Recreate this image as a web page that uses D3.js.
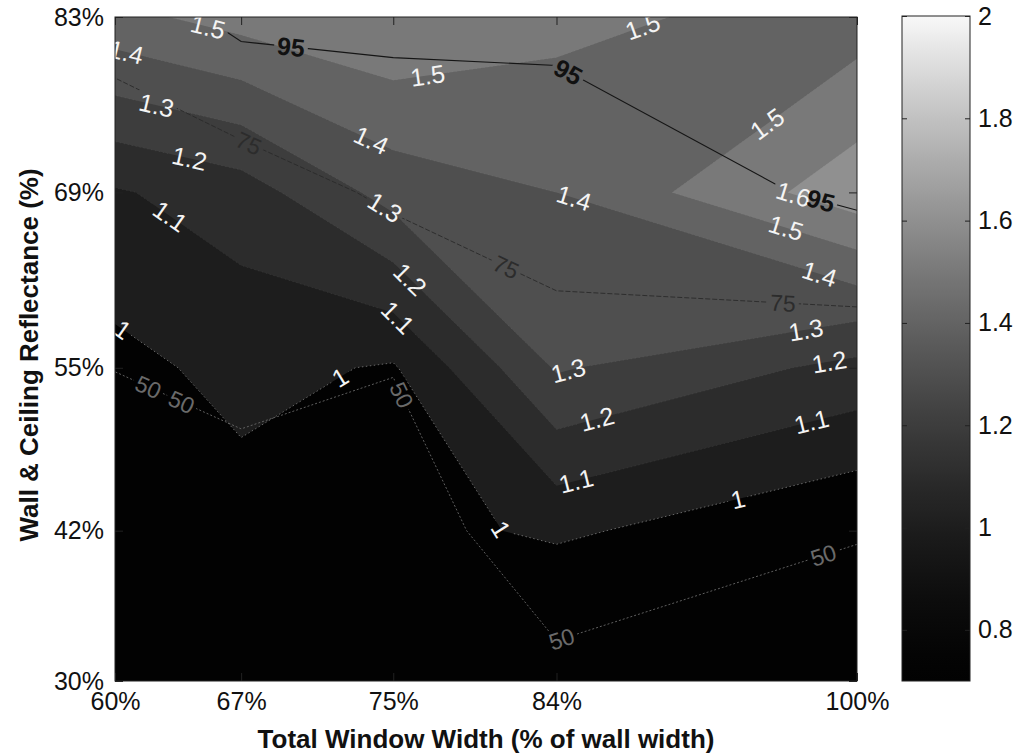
<!DOCTYPE html>
<html><head><meta charset="utf-8">
<script src="https://cdn.jsdelivr.net/npm/d3@7"></script>
<style>body{margin:0;background:#fff}</style>
</head><body>
<svg id="chart" width="1018" height="756"></svg>
<script>
// ---------- data ----------
const xTicks = [60, 66.8, 75, 83.8, 100];
const xTickLabels = ["60%", "67%", "75%", "84%", "100%"];
const yTicks = [30, 42, 55, 69, 83];
const yTickLabels = ["30%", "42%", "55%", "69%", "83%"];

// ratio field (filled contours); one row per wall & ceiling reflectance, columns follow xTicks
const ratioAt30 = [0.72, 0.70, 0.72, 0.80, 0.75];
const ratioAt42 = [0.75, 0.96, 0.96, 1.02, 0.90];
const ratioAt55 = [0.97, 1.03, 0.99, 1.31, 1.17];
const ratioAt69 = [1.09, 1.15, 1.34, 1.40, 1.66];
const ratioAt83 = [1.47, 1.54, 1.59, 1.53, 1.45];
const ratioLevels = [1.0, 1.1, 1.2, 1.3, 1.4, 1.5, 1.6];

// percentage field (black contour lines)
const pctAt30 = [25, 28, 35, 46.4, 40];
const pctAt42 = [30, 40, 42, 59.8, 51];
const pctAt55 = [50.5, 56, 50.5, 69.6, 62.4];
const pctAt69 = [60, 64.3, 78.4, 81.9, 98.7];
const pctAt83 = [83, 100, 100, 100, 99];
const pctLevels = [50, 75, 95];

// colour bar
const colorMin = 0.70, colorMax = 2.0;
const cbarTicks = [0.8, 1.0, 1.2, 1.4, 1.6, 1.8, 2.0];

// contour label anchors (data units)
const ratioLabelLevel = [1.4, 1.5, 1.3, 1.2, 1.1, 1.0, 1.5, 1.4, 1.3, 1.2, 1.1, 1.0, 1.5, 1.4, 1.5, 1.6, 1.5, 1.4, 1.3, 1.2, 1.1, 1.0, 1.3, 1.2, 1.1, 1.0];
const ratioLabelX = [60.7, 64.85, 62.2, 64.0, 63.4, 60.4, 77.0, 73.7, 74.3, 75.6, 75.1, 71.9, 88.6, 84.8, 94.8, 96.4, 96.1, 98.0, 97.2, 98.4, 97.2, 93.4, 84.5, 86.0, 84.8, 81.0];
const ratioLabelY = [80.8, 81.2, 75.7, 71.6, 68.0, 58.0, 76.8, 72.8, 67.2, 61.6, 58.8, 54.8, 81.6, 68.8, 75.2, 68.0, 65.8, 62.6, 58.4, 56.4, 52.7, 45.6, 54.4, 50.8, 46.3, 42.3];
const pctLabelLevel = [95, 95, 95, 75, 75, 75, 50, 50, 50, 50, 50];
const pctLabelX = [69.5, 84.5, 98.0, 67.3, 81.0, 96.0, 61.9, 64.0, 75.4, 84.0, 98.0];
const pctLabelY = [80.8, 78.8, 68.1, 73.2, 62.8, 59.8, 53.8, 53.6, 52.8, 33.7, 40.9];

// ---------- layout ----------
const W = 1018, H = 756;
const plot = {left: 115, right: 857, top: 17, bottom: 681};
const cbar = {left: 902, right: 970, top: 16, bottom: 681};
const font = "'Liberation Sans', Arial, Helvetica, sans-serif";

const svg = d3.select("#chart");
svg.append("rect").attr("width", W).attr("height", H).attr("fill", "#fff");
const defs = svg.append("defs");
defs.append("clipPath").attr("id", "plotClip").append("rect")
  .attr("x", plot.left).attr("y", plot.top)
  .attr("width", plot.right - plot.left).attr("height", plot.bottom - plot.top);

const x = d3.scaleLinear().domain([60, 100]).range([plot.left, plot.right]);
const y = d3.scaleLinear().domain([30, 83]).range([plot.bottom, plot.top]);
const color = d3.scaleSequential(t => {
  const g = Math.round(2 + 246 * Math.pow(Math.max(0, Math.min(1, t)), 1.5));
  return `rgb(${g},${g},${g})`;
}).domain([colorMin, colorMax]).clamp(true);

const nx = xTicks.length, ny = yTicks.length;
const ratioGrid = [ratioAt30, ratioAt42, ratioAt55, ratioAt69, ratioAt83].flat();
const pctGrid = [pctAt30, pctAt42, pctAt55, pctAt69, pctAt83].flat();

// grid coordinate (d3.contours space) -> index space -> data -> pixel
const toIdx = (c, n) => Math.max(0, Math.min(n - 1, c - 0.5));
function idxToData(u, vals) {
  const i = Math.min(vals.length - 2, Math.floor(u));
  const f = u - i;
  return vals[i] + f * (vals[i + 1] - vals[i]);
}
const idxToPx = p => [x(idxToData(p[0], xTicks)), y(idxToData(p[1], yTicks))];

const lineGen = d3.line();

function polyPath(c) {
  return c.coordinates.map(poly => poly.map(ring =>
    lineGen(ring.map(p => idxToPx([toIdx(p[0], nx), toIdx(p[1], ny)]))) + "Z").join("")).join("");
}

function isolines(c) {
  const out = [];
  const eps = 1e-7;
  const onB = (a, b) => (a[0] < eps && b[0] < eps) || (a[0] > nx - 1 - eps && b[0] > nx - 1 - eps) ||
    (a[1] < eps && b[1] < eps) || (a[1] > ny - 1 - eps && b[1] > ny - 1 - eps);
  c.coordinates.forEach(poly => poly.forEach(ring => {
    const pts = ring.map(p => [toIdx(p[0], nx), toIdx(p[1], ny)]);
    const segs = [];
    let cur = null, firstKept = false, lastKept = false, broken = false;
    for (let k = 0; k < pts.length - 1; k++) {
      const a = pts[k], b = pts[k + 1];
      if (onB(a, b)) { broken = true; if (cur) { segs.push(cur); cur = null; } }
      else {
        if (k === 0) firstKept = true;
        if (k === pts.length - 2) lastKept = true;
        if (!cur) cur = [a];
        cur.push(b);
      }
    }
    if (cur) segs.push(cur);
    if (broken && firstKept && lastKept && segs.length > 1) {
      const last = segs.pop();
      segs[0] = last.concat(segs[0].slice(1));
    }
    segs.forEach(s => out.push({value: c.value, pts: s.map(idxToPx)}));
  }));
  return out;
}

// ---------- filled contours ----------
const gPlot = svg.append("g").attr("clip-path", "url(#plotClip)");
gPlot.append("rect").attr("x", plot.left).attr("y", plot.top)
  .attr("width", plot.right - plot.left).attr("height", plot.bottom - plot.top)
  .attr("fill", color(colorMin));

const ratioContours = d3.contours().size([nx, ny]).thresholds(ratioLevels)(ratioGrid);
gPlot.selectAll("path.band").data(ratioContours).join("path")
  .attr("class", "band").attr("d", polyPath)
  .attr("fill", d => color(d.value)).attr("fill-rule", "evenodd");

// mask to open gaps in lines under labels
const mask = defs.append("mask").attr("id", "labelGap").attr("maskUnits", "userSpaceOnUse")
  .attr("x", 0).attr("y", 0).attr("width", W).attr("height", H);
mask.append("rect").attr("width", W).attr("height", H).attr("fill", "#fff");

const gLines = gPlot.append("g").attr("mask", "url(#labelGap)");
const ratioLines = ratioContours.flatMap(isolines);
gLines.selectAll("path.rline").data(ratioLines).join("path")
  .attr("class", "rline").attr("d", d => lineGen(d.pts))
  .attr("fill", "none").attr("stroke", "#c8c8c8").attr("stroke-width", 0.8)
  .attr("stroke-dasharray", "1.5,2.5")
  .attr("opacity", d => Math.abs(d.value - 1) < 1e-9 ? 0.6 : 0.1);

const pctContours = d3.contours().size([nx, ny]).thresholds(pctLevels)(pctGrid);
const pctLines = pctContours.flatMap(isolines);
const pctStroke = v => v >= 95 ? "#151515" : v >= 75 ? "#2a2a2a" : "#6a6a6a";
gLines.selectAll("path.pline").data(pctLines).join("path")
  .attr("class", "pline").attr("d", d => lineGen(d.pts))
  .attr("fill", "none").attr("stroke", d => pctStroke(d.value))
  .attr("stroke-width", d => d.value >= 95 ? 1.1 : 0.9)
  .attr("stroke-dasharray", d => d.value >= 95 ? null : d.value >= 75 ? "5,2" : "2,2");

// ---------- labels ----------
const gLabels = gPlot.append("g");
function placeLabels(lines, levels, lxs, lys, fmt, style) {
  levels.forEach((lev, k) => {
    const ax = x(lxs[k]), ay = y(lys[k]);
    let best = null;
    lines.filter(l => Math.abs(l.value - lev) < 1e-9).forEach(l => {
      const p = l.pts;
      for (let i = 0; i < p.length - 1; i++) {
        const a = p[i], b = p[i + 1];
        const dx = b[0] - a[0], dy = b[1] - a[1];
        const L2 = dx * dx + dy * dy;
        if (L2 < 1e-6) continue;
        let t = ((ax - a[0]) * dx + (ay - a[1]) * dy) / L2;
        t = Math.max(0, Math.min(1, t));
        const px = a[0] + t * dx, py = a[1] + t * dy;
        const d = (px - ax) ** 2 + (py - ay) ** 2;
        if (!best || d < best.d) best = {d, px, py, ang: Math.atan2(dy, dx) * 180 / Math.PI};
      }
    });
    if (!best) return;
    let ang = best.ang;
    if (ang > 90) ang -= 180;
    if (ang < -90) ang += 180;
    const size = style.size(lev);
    const tr = `translate(${best.px},${best.py}) rotate(${ang})`;
    const t = gLabels.append("text").attr("transform", tr)
      .attr("text-anchor", "middle").attr("dy", "0.36em")
      .attr("font-family", font).attr("font-size", size)
      .attr("font-weight", style.weight(lev)).attr("fill", style.fill(lev))
      .text(fmt(lev));
    const w = t.node().getComputedTextLength();
    mask.append("rect").attr("transform", tr)
      .attr("x", -w / 2 - 3).attr("y", -size * 0.45)
      .attr("width", w + 6).attr("height", size * 0.9).attr("fill", "#000");
  });
}
placeLabels(ratioLines, ratioLabelLevel, ratioLabelX, ratioLabelY, v => String(+v.toFixed(1)),
  {size: () => 25, weight: () => "normal", fill: () => "#f4f4f4"});
placeLabels(pctLines, pctLabelLevel, pctLabelX, pctLabelY, v => String(v),
  {size: v => v >= 95 ? 25 : 23, weight: v => v >= 95 ? "bold" : "normal", fill: v => v >= 95 ? "#111" : v >= 75 ? "#2c2c2c" : "#6a6a6a"});

// ---------- axes ----------
const tickLen = 8;
const gAx = svg.append("g");
gAx.append("g").attr("transform", `translate(0,${plot.bottom})`)
  .call(d3.axisBottom(x).tickValues(xTicks).tickFormat((d, i) => xTickLabels[i]).tickSizeInner(-tickLen).tickSizeOuter(0).tickPadding(11));
gAx.append("g").attr("transform", `translate(0,${plot.top})`)
  .call(d3.axisTop(x).tickValues(xTicks).tickFormat("").tickSizeInner(-tickLen).tickSizeOuter(0));
gAx.append("g").attr("transform", `translate(${plot.left},0)`)
  .call(d3.axisLeft(y).tickValues(yTicks).tickFormat((d, i) => yTickLabels[i]).tickSizeInner(-tickLen).tickSizeOuter(0).tickPadding(11));
gAx.append("g").attr("transform", `translate(${plot.right},0)`)
  .call(d3.axisRight(y).tickValues(yTicks).tickFormat("").tickSizeInner(-tickLen).tickSizeOuter(0));
gAx.selectAll(".domain").remove();
gAx.selectAll(".tick line").attr("stroke", "#222");
gAx.selectAll(".tick text").attr("font-family", font).attr("font-size", 25).attr("fill", "#111");
svg.append("rect").attr("x", plot.left).attr("y", plot.top)
  .attr("width", plot.right - plot.left).attr("height", plot.bottom - plot.top)
  .attr("fill", "none").attr("stroke", "#222").attr("stroke-width", 1);

svg.append("text").attr("x", (plot.left + plot.right) / 2).attr("y", 748)
  .attr("text-anchor", "middle").attr("font-family", font).attr("font-size", 26).attr("font-weight", "bold")
  .attr("fill", "#111").text("Total Window Width (% of wall width)");
svg.append("text").attr("transform", `translate(38,${(plot.top + plot.bottom) / 2 + 6}) rotate(-90)`)
  .attr("text-anchor", "middle").attr("font-family", font).attr("font-size", 26).attr("font-weight", "bold")
  .attr("fill", "#111").text("Wall & Ceiling Reflectance (%)");

// ---------- colour bar ----------
const cy = d3.scaleLinear().domain([colorMin, colorMax]).range([cbar.bottom, cbar.top]);
const grad = defs.append("linearGradient").attr("id", "cbGrad")
  .attr("x1", 0).attr("y1", 1).attr("x2", 0).attr("y2", 0);
d3.range(0, 1.0001, 0.02).forEach(t => {
  grad.append("stop").attr("offset", t).attr("stop-color", color(colorMin + t * (colorMax - colorMin)));
});
svg.append("rect").attr("x", cbar.left).attr("y", cbar.top)
  .attr("width", cbar.right - cbar.left).attr("height", cbar.bottom - cbar.top)
  .attr("fill", "url(#cbGrad)").attr("stroke", "#222").attr("stroke-width", 1);
const gCb = svg.append("g").attr("transform", `translate(${cbar.right},0)`)
  .call(d3.axisRight(cy).tickValues(cbarTicks).tickFormat(d => String(+d.toFixed(1))).tickSizeInner(-5).tickSizeOuter(0).tickPadding(8));
svg.append("g").attr("transform", `translate(${cbar.left},0)`)
  .call(d3.axisLeft(cy).tickValues(cbarTicks).tickFormat("").tickSizeInner(-5).tickSizeOuter(0))
  .call(g => g.select(".domain").remove()).selectAll(".tick line").attr("stroke", "#222");
gCb.select(".domain").remove();
gCb.selectAll(".tick line").attr("stroke", "#222");
gCb.selectAll(".tick text").attr("font-family", font).attr("font-size", 25).attr("fill", "#111");
</script>
</body></html>
